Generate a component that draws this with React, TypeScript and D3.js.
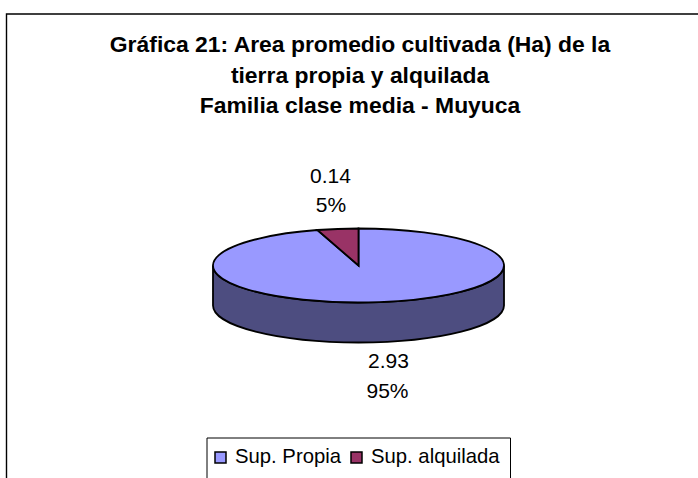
import React from "react";
import * as d3 from "d3";

const categories = ["Sup. Propia", "Sup. alquilada"];
const values = [2.93, 0.14];
const percentLabels = ["95%", "5%"];
const valueLabels = ["2.93", "0.14"];
const topColors = ["#9999FF", "#993366"];
const sideColor = "#4D4D80";
const titleLines = [
  "Gráfica 21: Area promedio cultivada (Ha) de la",
  "tierra propia y alquilada",
  "Familia clase media - Muyuca",
];
const titleBaselines = [52, 83, 113];

const font = "'Liberation Sans', Arial, sans-serif";
const cx = 358.5;
const cy = 265.5;
const rx = 145.5;
const ry = 37;
const depth = 40;

export default function App() {
  const pie = d3
    .pie<number>()
    .sort(null)
    .startAngle(0)
    .endAngle(2 * Math.PI)(values);
  const arc = d3.arc<d3.PieArcDatum<number>>().innerRadius(0).outerRadius(rx);
  const side = `M${cx - rx},${cy} A${rx},${ry} 0 0 0 ${cx + rx},${cy} L${cx + rx},${cy + depth} A${rx},${ry} 0 0 1 ${cx - rx},${cy + depth} Z`;

  return (
    <svg
      width={698}
      height={478}
      style={{ position: "absolute", left: 0, top: 0, background: "#fff" }}
      fontFamily={font}
    >
      <path d="M6.5,478 L6.5,14 L698,14" fill="none" stroke="#000" strokeWidth={1.4} />
      {titleLines.map((t, i) => (
        <text key={t} x={360} y={titleBaselines[i]} textAnchor="middle" fontSize={22.9} fontWeight="bold" fill="#000">
          {t}
        </text>
      ))}
      <path d={side} fill={sideColor} stroke="#000" strokeWidth={1.8} />
      <g transform={`translate(${cx},${cy}) scale(1,${ry / rx})`}>
        {pie.map((d, i) => (
          <path
            key={categories[i]}
            d={arc(d) ?? ""}
            fill={topColors[i]}
            stroke="#000"
            strokeWidth={1.8}
            vectorEffect="non-scaling-stroke"
          />
        ))}
      </g>
      <g fontSize={21} textAnchor="middle" fill="#000">
        <text x={330.5} y={183}>{valueLabels[1]}</text>
        <text x={331} y={212}>{percentLabels[1]}</text>
        <text x={388.5} y={368}>{valueLabels[0]}</text>
        <text x={387.5} y={398}>{percentLabels[0]}</text>
      </g>
      <path d="M207,478 L207,438 L510.5,438 L510.5,478" fill="none" stroke="#000" strokeWidth={1} />
      <rect x={215} y={452} width={11} height={11} fill={topColors[0]} stroke="#000" strokeWidth={1.5} />
      <text x={235} y={463} fontSize={20.3} fill="#000">{categories[0]}</text>
      <rect x={351} y={452} width={11} height={11} fill={topColors[1]} stroke="#000" strokeWidth={1.5} />
      <text x={371} y={463} fontSize={20.3} fill="#000">{categories[1]}</text>
    </svg>
  );
}
